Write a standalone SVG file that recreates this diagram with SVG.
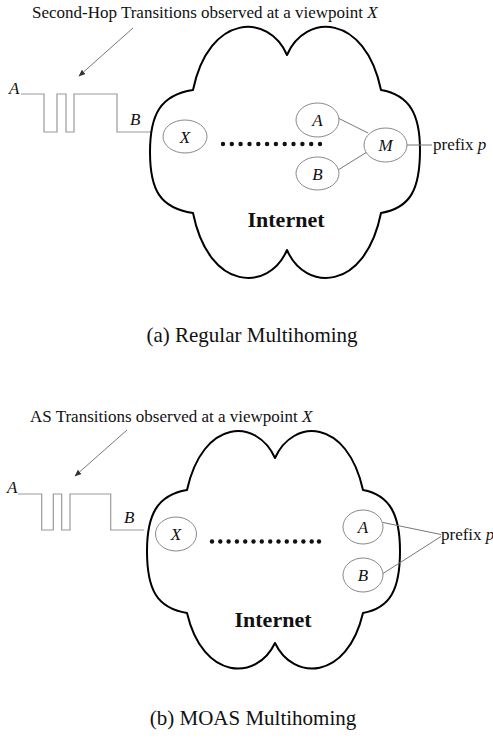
<svg xmlns="http://www.w3.org/2000/svg" width="493" height="738" viewBox="0 0 493 738">
  <style>
    text { font-family: "Liberation Serif", "Times New Roman", serif; fill: #111; }
    .t { font-size: 17px; }
    .it { font-size: 17px; font-style: italic; }
    .net { font-size: 22px; font-weight: bold; text-anchor: middle; }
    .cap { font-size: 21px; text-anchor: middle; }
    .mid { text-anchor: middle; }
    .cloud { fill: none; stroke: #000; stroke-width: 2; stroke-linejoin: round; }
    .as { fill: #fff; stroke: #888; stroke-width: 1; }
    .link { stroke: #777; stroke-width: 1; fill: none; }
    .wave { stroke: #999; stroke-width: 1.2; fill: none; }
    .dot { fill: #111; }
  </style>
  <defs>
    <marker id="arrow" viewBox="0 0 10 10" refX="9" refY="5" markerWidth="7" markerHeight="7" orient="auto">
      <path d="M0,1 L10,5 L0,9 Z" fill="#333"/>
    </marker>
  </defs>

  <!-- (a) Regular Multihoming -->
  <g id="a-title">
    <text class="t" x="32" y="18">Second-Hop Transitions observed at a viewpoint <tspan font-style="italic">X</tspan></text>
  </g>
  <g id="a-wave">
    <text class="it" x="9" y="94">A</text>
    <path class="wave" d="M21 94 H44 V132 H57 V94 H66 V132 H74 V94 H117 V132 H152"/>
    <text class="it" x="130" y="125">B</text>
  </g>
  <g id="a-cloud">
    <path class="cloud" d="M287 55 C305 13 365 13 381 90 C410 95 420 115 420 150 C420 190 410 208 381 213 C365 292 305 292 287 250 C269 292 209 292 193 213 C160 208 150 190 150 152 C150 115 160 95 193 90 C209 13 269 13 287 55 Z"/>
    <text class="net" x="286" y="227">Internet</text>
  </g>
  <g id="a-dots">
    <circle class="dot" cx="223" cy="144" r="2.2"/><circle class="dot" cx="231.8" cy="144" r="2.2"/><circle class="dot" cx="240.6" cy="144" r="2.2"/><circle class="dot" cx="249.5" cy="144" r="2.2"/><circle class="dot" cx="258.3" cy="144" r="2.2"/><circle class="dot" cx="267.1" cy="144" r="2.2"/><circle class="dot" cx="275.9" cy="144" r="2.2"/><circle class="dot" cx="284.7" cy="144" r="2.2"/><circle class="dot" cx="293.5" cy="144" r="2.2"/><circle class="dot" cx="302.4" cy="144" r="2.2"/><circle class="dot" cx="311.2" cy="144" r="2.2"/><circle class="dot" cx="320" cy="144" r="2.2"/>
  </g>
  <g id="a-connectors">
    <line class="link" x1="133" y1="28" x2="79" y2="76" marker-end="url(#arrow)"/>
    <line class="link" x1="338" y1="118" x2="368" y2="133"/>
    <line class="link" x1="338" y1="170" x2="367" y2="152"/>
    <line class="link" x1="407" y1="145" x2="432" y2="145"/>
  </g>
  <g id="a-X">
    <ellipse class="as" cx="185" cy="136.5" rx="22" ry="16.5"/>
    <text class="it mid" x="185" y="142.5">X</text>
  </g>
  <g id="a-A">
    <ellipse class="as" cx="317.5" cy="120" rx="21.5" ry="17"/>
    <text class="it mid" x="317.5" y="126">A</text>
  </g>
  <g id="a-B">
    <ellipse class="as" cx="317.5" cy="173.5" rx="21.5" ry="16.5"/>
    <text class="it mid" x="317.5" y="179.5">B</text>
  </g>
  <g id="a-M">
    <ellipse class="as" cx="385.5" cy="145" rx="21.5" ry="17"/>
    <text class="it mid" x="385.5" y="151">M</text>
  </g>
  <g id="a-prefix">
    <text class="t" x="433" y="150">prefix <tspan font-style="italic">p</tspan></text>
  </g>
  <g id="a-caption">
    <text class="cap" x="252" y="342">(a) Regular Multihoming</text>
  </g>

  <!-- (b) MOAS Multihoming -->
  <g id="b-title">
    <text class="t" x="30" y="422">AS Transitions observed at a viewpoint <tspan font-style="italic">X</tspan></text>
  </g>
  <g id="b-wave">
    <text class="it" x="7" y="493">A</text>
    <path class="wave" d="M18 494 H41.7 V530 H53.3 V494 H61.7 V530 H70 V494 H110.7 V530 H144"/>
    <text class="it" x="124" y="523">B</text>
  </g>
  <g id="b-cloud">
    <path class="cloud" d="M275 458 C293 418 347 418 363 490 C390 495 400 515 400 551 C400 590 390 608 363 613 C347 681 293 681 275 643 C257 681 203 681 187 613 C157 608 147 590 147 551 C147 515 157 495 187 490 C203 418 257 418 275 458 Z"/>
    <text class="net" x="273" y="627">Internet</text>
  </g>
  <g id="b-dots">
    <circle class="dot" cx="212" cy="541.5" r="2.2"/><circle class="dot" cx="220.3" cy="541.5" r="2.2"/><circle class="dot" cx="228.6" cy="541.5" r="2.2"/><circle class="dot" cx="236.9" cy="541.5" r="2.2"/><circle class="dot" cx="245.2" cy="541.5" r="2.2"/><circle class="dot" cx="253.5" cy="541.5" r="2.2"/><circle class="dot" cx="261.8" cy="541.5" r="2.2"/><circle class="dot" cx="270.2" cy="541.5" r="2.2"/><circle class="dot" cx="278.5" cy="541.5" r="2.2"/><circle class="dot" cx="286.8" cy="541.5" r="2.2"/><circle class="dot" cx="295.1" cy="541.5" r="2.2"/><circle class="dot" cx="303.4" cy="541.5" r="2.2"/><circle class="dot" cx="311.7" cy="541.5" r="2.2"/><circle class="dot" cx="319" cy="541.5" r="2.2"/>
  </g>
  <g id="b-connectors">
    <line class="link" x1="127" y1="430" x2="75" y2="476" marker-end="url(#arrow)"/>
    <line class="link" x1="383" y1="522.5" x2="441" y2="534.5"/>
    <line class="link" x1="383" y1="573.5" x2="441" y2="536.5"/>
  </g>
  <g id="b-X">
    <ellipse class="as" cx="176" cy="534" rx="20.5" ry="17"/>
    <text class="it mid" x="176" y="540">X</text>
  </g>
  <g id="b-A">
    <ellipse class="as" cx="363" cy="527" rx="20" ry="17"/>
    <text class="it mid" x="363" y="533">A</text>
  </g>
  <g id="b-B">
    <ellipse class="as" cx="363" cy="575" rx="20" ry="17"/>
    <text class="it mid" x="363" y="581">B</text>
  </g>
  <g id="b-prefix">
    <text class="t" x="441" y="540">prefix <tspan font-style="italic">p</tspan></text>
  </g>
  <g id="b-caption">
    <text class="cap" x="253" y="725">(b) MOAS Multihoming</text>
  </g>
</svg>
